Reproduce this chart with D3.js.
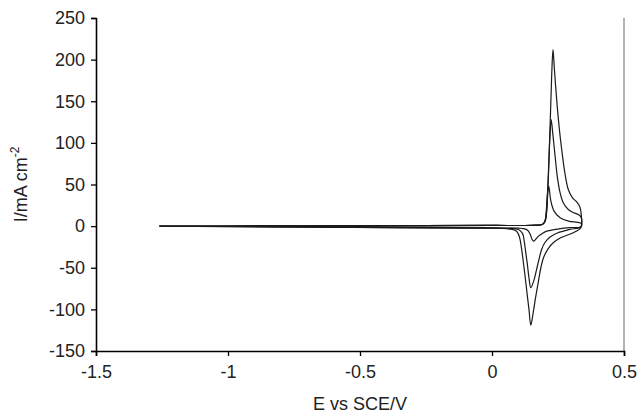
<!DOCTYPE html>
<html>
<head>
<meta charset="utf-8">
<script src="https://cdn.jsdelivr.net/npm/d3@7"></script>
<style>
  body { margin: 0; background: #fff; }
  text { font-family: "Liberation Sans", Arial, sans-serif; fill: #222; }
</style>
</head>
<body>
<script>
// potential (V vs SCE) and current density (mA cm-2), one loop per cycle
const cycle1E = [-1.26, -0.8, -0.4, 0, 0.15, 0.19, 0.2, 0.206, 0.211, 0.215, 0.218, 0.223, 0.235, 0.258, 0.29, 0.333, 0.34,
    0.336, 0.283, 0.24, 0.207, 0.19, 0.176, 0.165, 0.158, 0.152, 0.145, 0.135, 0.12, 0.1, 0, -0.5, -1.26];
const cycle1I = [0, 0.3, 0.5, 0.8, 1, 2, 6, 20, 42, 48, 42, 30, 18, 10, 6, 4, 2,
    -1, -2, -4, -6, -9, -12, -16, -18, -16, -10, -5, -3, -2.5, -2, -1, 0];

const cycle2E = [-1.26, -0.8, -0.4, 0, 0.15, 0.19, 0.2, 0.206, 0.213, 0.219, 0.224, 0.23, 0.239, 0.248, 0.258, 0.27, 0.289, 0.31, 0.327, 0.337, 0.34,
    0.336, 0.295, 0.25, 0.22, 0.2, 0.188, 0.178, 0.169, 0.158, 0.147, 0.14, 0.134, 0.128, 0.122, 0.116, 0.1, 0.06, 0, -0.5, -1.26];
const cycle2I = [0, 0.3, 0.5, 0.8, 1, 2, 5, 14, 55, 105, 128, 112, 84, 58, 40, 28, 20, 16, 14, 11, 4,
    -1, -4, -8, -13, -20, -28, -40, -52, -66, -74, -62, -46, -32, -18, -9, -4, -3, -2.5, -1.5, 0];

const cycle3E = [-1.26, -0.8, -0.4, 0, 0.15, 0.19, 0.2, 0.205, 0.212, 0.22, 0.226, 0.231, 0.236, 0.245, 0.254, 0.264, 0.276, 0.289, 0.305, 0.321, 0.333, 0.338, 0.34,
    0.336, 0.308, 0.26, 0.232, 0.213, 0.195, 0.185, 0.176, 0.165, 0.157, 0.147, 0.14, 0.134, 0.126, 0.119, 0.112, 0.104, 0.095, 0.087, 0.06, 0, -0.4, -0.8, -1.26];
const cycle3I = [0, 0.3, 0.5, 0.8, 1, 2, 5, 12, 50, 120, 180, 212, 190, 152, 120, 92, 64, 44, 34, 29, 23, 14, 4,
    -2, -8, -14, -20, -27, -38, -50, -66, -86, -102, -119, -100, -84, -62, -44, -27, -13, -7, -5, -3, -2.5, -1.8, -1, 0];

const xTicks = [-1.5, -1, -0.5, 0, 0.5];
const yTicks = [-150, -100, -50, 0, 50, 100, 150, 200, 250];

const width = 638;
const height = 418;
const margin = { top: 18, right: 14, bottom: 67, left: 96 };

const svg = d3.select('body')
    .append('svg')
    .attr('width', width)
    .attr('height', height);

const x = d3.scaleLinear()
    .domain([-1.5, 0.5])
    .range([margin.left, width - margin.right]);

const y = d3.scaleLinear()
    .domain([-150, 250])
    .range([height - margin.bottom, margin.top]);

// right frame edge
svg.append('line')
    .attr('x1', x(0.5)).attr('x2', x(0.5))
    .attr('y1', y(250)).attr('y2', y(-150))
    .attr('stroke', '#9a9a9a')
    .attr('stroke-width', 1.5);

const line = d3.line()
    .x((d) => x(d[0]))
    .y((d) => y(d[1]))
    .curve(d3.curveCatmullRom.alpha(0.5));

const cycles = [
    [cycle1E, cycle1I],
    [cycle2E, cycle2I],
    [cycle3E, cycle3I]
].map(([e, i]) => e.map((v, k) => [v, i[k]]));

svg.append('g')
    .selectAll('path')
    .data(cycles)
    .join('path')
    .attr('d', line)
    .attr('fill', 'none')
    .attr('stroke', '#1a1a1a')
    .attr('stroke-width', 1.2);

const fmt = (d) => String(d);

const xAxis = svg.append('g')
    .attr('transform', `translate(0,${y(-150)})`)
    .call(d3.axisBottom(x).tickValues(xTicks).tickFormat(fmt).tickSize(5).tickPadding(9));

const yAxis = svg.append('g')
    .attr('transform', `translate(${x(-1.5)},0)`)
    .call(d3.axisLeft(y).tickValues(yTicks).tickFormat(fmt).tickSize(5).tickPadding(6));

[xAxis, yAxis].forEach((g) => {
    g.select('.domain').attr('stroke', '#000').attr('stroke-width', 1.6);
    g.selectAll('.tick line').attr('stroke', '#000').attr('stroke-width', 1.3);
    g.selectAll('.tick text')
        .attr('font-family', '"Liberation Sans", Arial, sans-serif')
        .attr('font-size', 18)
        .attr('fill', '#222');
});

svg.append('text')
    .attr('x', x(-0.5))
    .attr('y', 410)
    .attr('text-anchor', 'middle')
    .attr('font-size', 18)
    .text('E vs SCE/V');

const yTitle = svg.append('text')
    .attr('transform', `translate(27,${y(50)}) rotate(-90)`)
    .attr('text-anchor', 'middle')
    .attr('font-size', 18);
yTitle.append('tspan').text('I/mA cm');
yTitle.append('tspan').attr('dy', -8).attr('font-size', 12).text('-2');
</script>
</body>
</html>
